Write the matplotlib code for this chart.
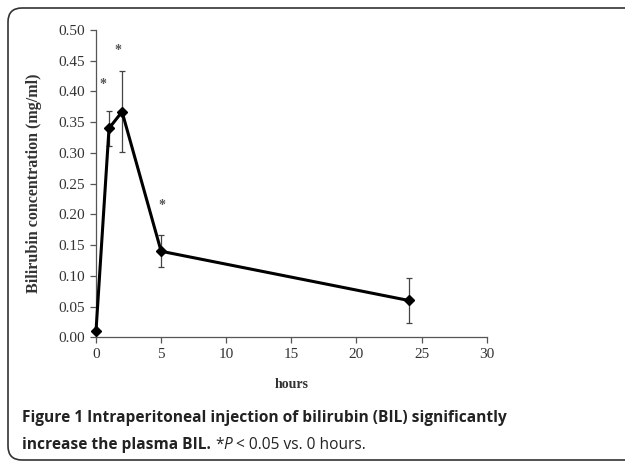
import matplotlib
matplotlib.use("Agg")
import matplotlib.pyplot as plt
from matplotlib.patches import FancyBboxPatch
from matplotlib.transforms import IdentityTransform

# data
hours = [0, 1, 2, 5, 24]
bil = [0.010, 0.340, 0.367, 0.140, 0.060]
err = [0.0, 0.028, 0.066, 0.026, 0.036]
star_x = [0.55, 1.65, 5.1]
star_y = [0.412, 0.466, 0.215]

serif = "Liberation Serif"
W, H = 625, 462

fig = plt.figure(figsize=(W / 100, H / 100), dpi=100)

# rounded frame (runs off the right edge); pixel units
frame = FancyBboxPatch((8, 2), 800, H - 10,
                       boxstyle="round,pad=0,rounding_size=14",
                       transform=IdentityTransform(),
                       fill=False, ec="#333333", lw=1.2, clip_on=False)
fig.patches.append(frame)

ax = fig.add_axes([0.1536, 0.2699, 0.6251, 0.6652])
_, caps, bars = ax.errorbar(hours, bil, yerr=err, color="black", lw=2.2,
                            marker="D", ms=4.8, ecolor="#444444",
                            elinewidth=0.9, capsize=2.5, capthick=0.9,
                            zorder=3)
for art in ax.lines + list(caps):
    art.set_clip_on(False)
for sx, sy in zip(star_x, star_y):
    ax.text(sx, sy, "*", ha="center", va="center", fontsize=10,
            color="#555555", family=serif, fontweight="bold")

ax.set_xlim(0, 30)
ax.set_ylim(0, 0.5)
ax.set_xticks(range(0, 31, 5))
ax.set_yticks([i * 0.05 for i in range(11)])
ax.set_yticklabels([f"{i * 0.05:.2f}" for i in range(11)])
for s in ("top", "right"):
    ax.spines[s].set_visible(False)
for s in ("left", "bottom"):
    ax.spines[s].set_color("#555555")
    ax.spines[s].set_linewidth(0.9)
ax.tick_params(direction="out", length=4, width=0.9, color="#555555",
               labelsize=11, pad=4)
for lab in ax.get_xticklabels() + ax.get_yticklabels():
    lab.set_family(serif)
    lab.set_color("#333333")
ax.set_xlabel("hours", family=serif, fontweight="bold", fontsize=10,
              color="#333333", labelpad=12)
ax.set_ylabel("Bilirubin concentration (mg/ml)", family=serif,
              fontweight="bold", fontsize=11.5, color="#333333", labelpad=12)
ax.patch.set_alpha(0)

# caption, built piece by piece for the mixed weights
cap_font = "Open Sans"
cs = 11.2
fig.text(22 / W, 1 - 418 / H,
         "Figure 1 Intraperitoneal injection of bilirubin (BIL) significantly",
         family=cap_font, fontweight="bold", fontsize=cs, va="center",
         color="#222222")
t = fig.text(22 / W, 1 - 445 / H, "increase the plasma BIL. ",
             family=cap_font, fontweight="bold", fontsize=cs, va="center",
             color="#222222")
fig.canvas.draw()
x1 = t.get_window_extent().x1 / fig.bbox.width
t2 = fig.text(x1, 1 - 445 / H, "*", family=cap_font, fontsize=cs,
              va="center", color="#222222")
x1 = t2.get_window_extent().x1 / fig.bbox.width
t3 = fig.text(x1, 1 - 445 / H, "P", family=cap_font, style="italic",
              fontsize=cs, va="center", color="#222222")
x1 = t3.get_window_extent().x1 / fig.bbox.width
fig.text(x1, 1 - 445 / H, " < 0.05 vs. 0 hours.", family=cap_font,
         fontsize=cs, va="center", color="#222222")

fig.savefig("out.png", dpi=100)
